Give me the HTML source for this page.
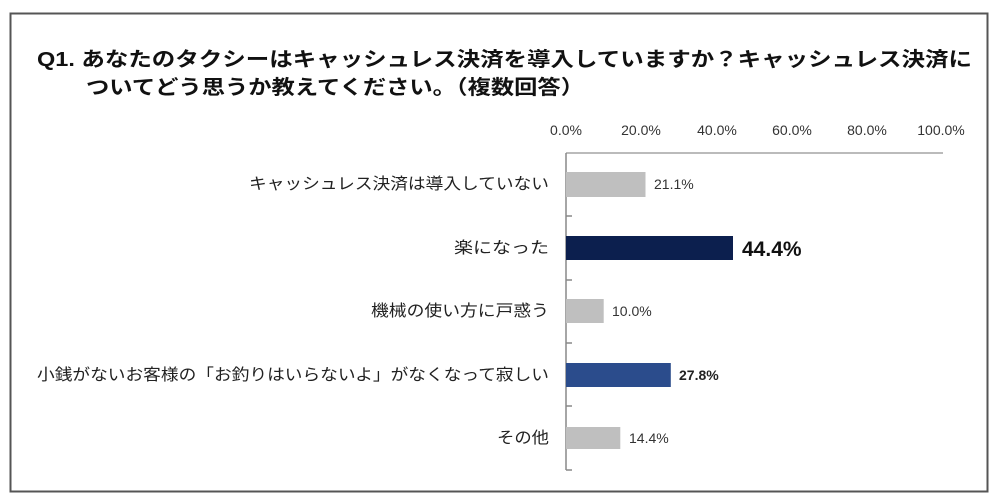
<!DOCTYPE html>
<html><head><meta charset="utf-8"><style>
html,body{margin:0;padding:0;background:#fff;}
svg{display:block;font-family:"Liberation Sans","Noto Sans CJK JP",sans-serif;}
</style></head><body>
<svg width="1000" height="503" viewBox="0 0 1000 503">
<rect x="10.5" y="13.5" width="977" height="478" fill="#fff" stroke="#555" stroke-width="2"/>
<text x="37" y="66" font-size="20" font-weight="bold" fill="#111" textLength="935" lengthAdjust="spacingAndGlyphs">Q1. あなたのタクシーはキャッシュレス決済を導入していますか？キャッシュレス決済に</text>
<text x="86" y="94" font-size="20" font-weight="bold" fill="#111" textLength="498" lengthAdjust="spacingAndGlyphs">ついてどう思うか教えてください。（複数回答）</text>
<g font-size="14" fill="#333" text-anchor="middle">
<text x="566" y="135">0.0%</text><text x="641" y="135">20.0%</text><text x="717" y="135">40.0%</text>
<text x="792" y="135">60.0%</text><text x="867" y="135">80.0%</text><text x="941" y="135">100.0%</text>
</g>
<line x1="566" y1="153" x2="943" y2="153" stroke="#bbb" stroke-width="2"/>
<line x1="566" y1="153" x2="566" y2="470" stroke="#888" stroke-width="1.5"/>
<g stroke="#888" stroke-width="1.5">
<line x1="566" y1="216" x2="572" y2="216"/><line x1="566" y1="280" x2="572" y2="280"/>
<line x1="566" y1="343" x2="572" y2="343"/><line x1="566" y1="406" x2="572" y2="406"/>
<line x1="566" y1="470" x2="572" y2="470"/>
</g>
<rect x="566" y="172" width="79.5" height="25" fill="#bfbfbf"/>
<rect x="566" y="236" width="167" height="24" fill="#0c1f4e"/>
<rect x="566" y="299" width="37.7" height="24" fill="#bfbfbf"/>
<rect x="566" y="363" width="104.8" height="24" fill="#2b4c8c"/>
<rect x="566" y="427" width="54.3" height="22" fill="#bfbfbf"/>
<text x="654" y="189" font-size="14" fill="#333">21.1%</text>
<text x="742" y="256" font-size="21" font-weight="bold" fill="#111">44.4%</text>
<text x="612" y="316" font-size="14" fill="#333">10.0%</text>
<text x="679" y="380" font-size="14" font-weight="bold" fill="#222">27.8%</text>
<text x="629" y="443" font-size="14" fill="#333">14.4%</text>
<g font-size="16" fill="#222" text-anchor="end">
<text x="549" y="189" textLength="300" lengthAdjust="spacingAndGlyphs">キャッシュレス決済は導入していない</text>
<text x="549" y="253" textLength="95" lengthAdjust="spacingAndGlyphs">楽になった</text>
<text x="549" y="316" textLength="178" lengthAdjust="spacingAndGlyphs">機械の使い方に戸惑う</text>
<text x="549" y="380" textLength="512" lengthAdjust="spacingAndGlyphs">小銭がないお客様の「お釣りはいらないよ」がなくなって寂しい</text>
<text x="549" y="443" textLength="52" lengthAdjust="spacingAndGlyphs">その他</text>
</g>
</svg>
</body></html>
